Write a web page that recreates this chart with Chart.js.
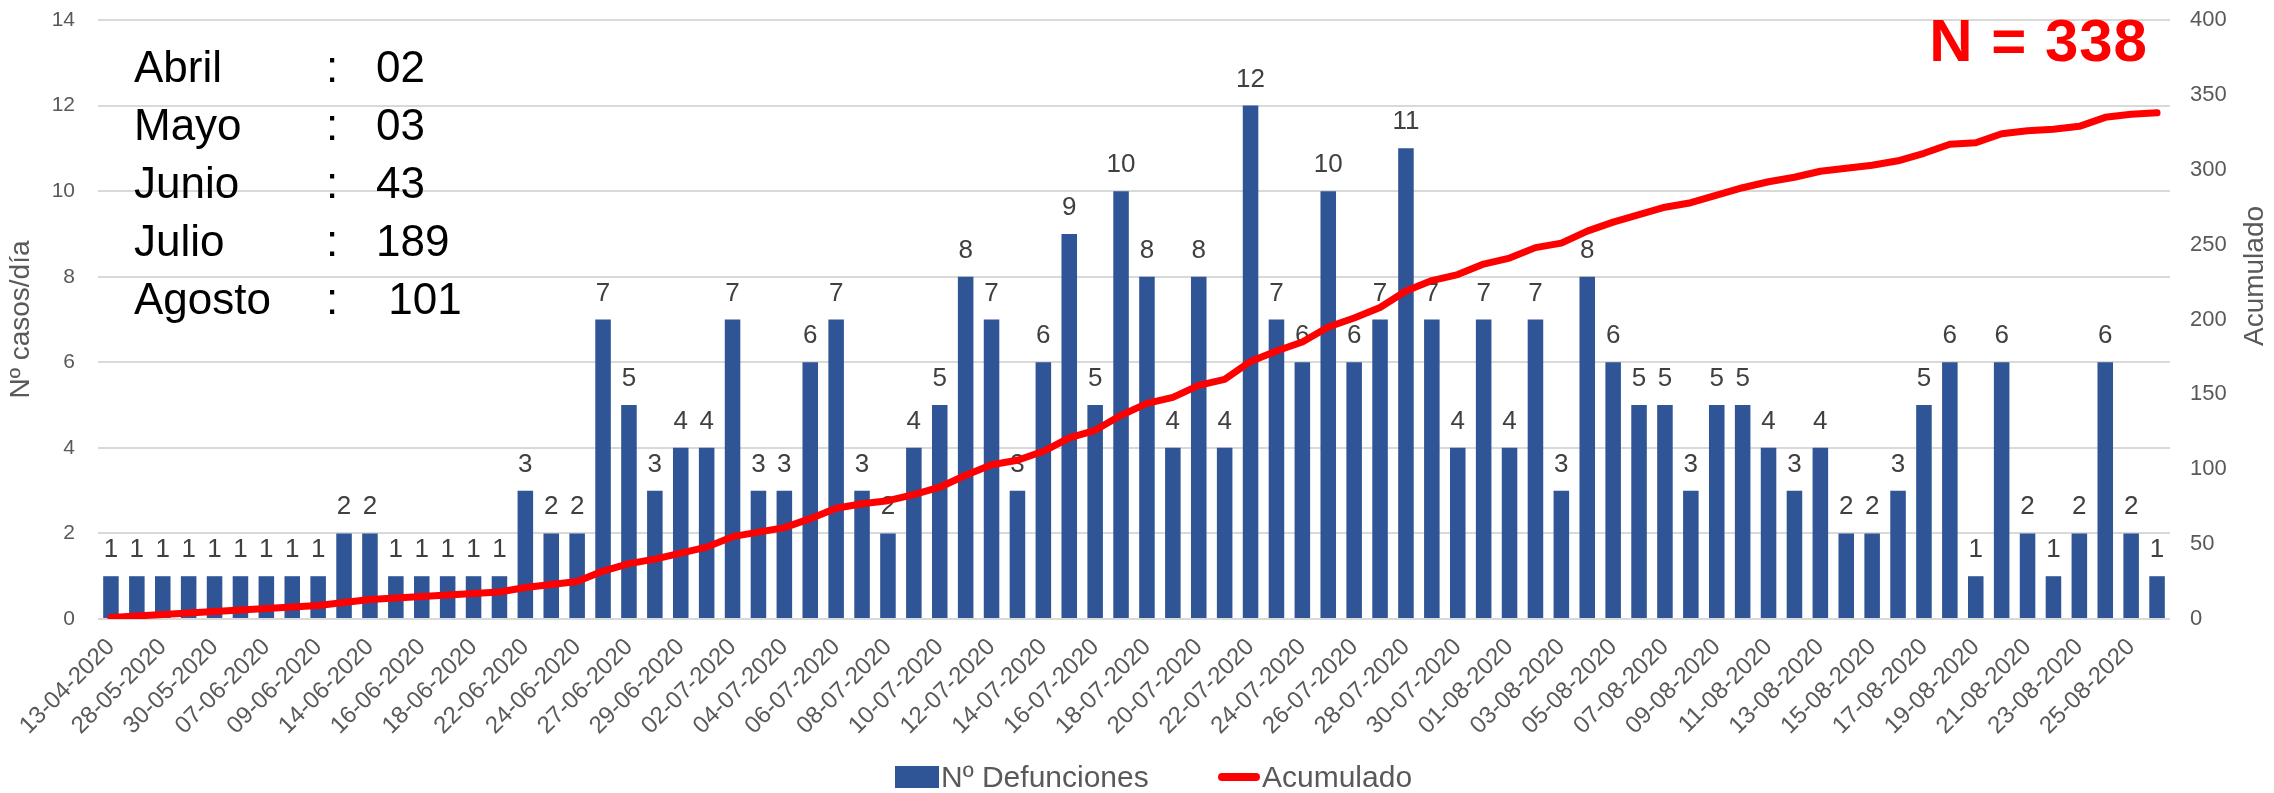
<!DOCTYPE html>
<html>
<head>
<meta charset="utf-8">
<script src="https://cdn.jsdelivr.net/npm/chart.js@4.4.1/dist/chart.umd.min.js"></script>
<style>
  body { margin: 0; background: #fff; }
  #wrap { position: relative; width: 2274px; height: 793px; font-family: "Liberation Sans", Arial, sans-serif; }
  #notes { position: absolute; left: 134px; top: 38px; font-size: 44px; color: #000; }
  #notes div { height: 58px; line-height: 58px; white-space: pre; position: relative; }
  #notes .colon { position: absolute; left: 192px; }
  #notes .val { position: absolute; left: 242px; }
  #total { position: absolute; right: 126px; top: 11px; font-size: 60px; font-weight: bold; line-height: 1; letter-spacing: 1px; color: #FF0000; }
  #legend { position: absolute; left: 0; top: 760px; height: 34px; width: 100%; font-size: 30px; color: #595959; line-height: 34px; }
  #legend span { position: absolute; }
  #legend .box { width: 44px; height: 22px; top: 6px; }
  #legend .line { width: 42px; height: 8px; top: 13px; border-radius: 4px; }
</style>
</head>
<body>
<div id="wrap">
  <canvas id="chart"></canvas>
  <div id="notes"></div>
  <div id="total"></div>
  <div id="legend"></div>
</div>
<script>
// Data
const dates = [
  "13-04-2020", "25-04-2020", "28-05-2020", "29-05-2020", "30-05-2020", "05-06-2020",
  "07-06-2020", "08-06-2020", "09-06-2020", "12-06-2020", "14-06-2020", "15-06-2020",
  "16-06-2020", "17-06-2020", "18-06-2020", "20-06-2020", "22-06-2020", "23-06-2020",
  "24-06-2020", "26-06-2020", "27-06-2020", "28-06-2020", "29-06-2020", "30-06-2020",
  "02-07-2020", "03-07-2020", "04-07-2020", "05-07-2020", "06-07-2020", "07-07-2020",
  "08-07-2020", "09-07-2020", "10-07-2020", "11-07-2020", "12-07-2020", "13-07-2020",
  "14-07-2020", "15-07-2020", "16-07-2020", "17-07-2020", "18-07-2020", "19-07-2020",
  "20-07-2020", "21-07-2020", "22-07-2020", "23-07-2020", "24-07-2020", "25-07-2020",
  "26-07-2020", "27-07-2020", "28-07-2020", "29-07-2020", "30-07-2020", "31-07-2020",
  "01-08-2020", "02-08-2020", "03-08-2020", "04-08-2020", "05-08-2020", "06-08-2020",
  "07-08-2020", "08-08-2020", "09-08-2020", "10-08-2020", "11-08-2020", "12-08-2020",
  "13-08-2020", "14-08-2020", "15-08-2020", "16-08-2020", "17-08-2020", "18-08-2020",
  "19-08-2020", "20-08-2020", "21-08-2020", "22-08-2020", "23-08-2020", "24-08-2020",
  "25-08-2020", "26-08-2020"
];

const deaths = [
  1, 1, 1, 1, 1, 1, 1, 1, 1, 2, 2, 1, 1, 1, 1, 1, 3, 2, 2, 7,
  5, 3, 4, 4, 7, 3, 3, 6, 7, 3, 2, 4, 5, 8, 7, 3, 6, 9, 5, 10,
  8, 4, 8, 4, 12, 7, 6, 10, 6, 7, 11, 7, 4, 7, 4, 7, 3, 8, 6, 5,
  5, 3, 5, 5, 4, 3, 4, 2, 2, 3, 5, 6, 1, 6, 2, 1, 2, 6, 2, 1
];

const accumulated = [
  1, 2, 3, 4, 5, 6, 7, 8, 9, 11, 13, 14, 15, 16, 17, 18, 21, 23, 25, 32,
  37, 40, 44, 48, 55, 58, 61, 67, 74, 77, 79, 83, 88, 96, 103, 106, 112, 121, 126, 136,
  144, 148, 156, 160, 172, 179, 185, 195, 201, 208, 219, 226, 230, 237, 241, 248, 251, 259, 265, 270,
  275, 278, 283, 288, 292, 295, 299, 301, 303, 306, 311, 317, 318, 324, 326, 327, 329, 335, 337, 338
];

const months = ["Abril", "Mayo", "Junio", "Julio", "Agosto"];
const monthTotals = ["02", "03", "43", "189", " 101"];
const totalLabel = "N = 338";

const barColor = "#2F5597";
const lineColor = "#FF0000";

// Text blocks
const notes = document.getElementById("notes");
months.forEach((m, i) => {
  const row = document.createElement("div");
  row.innerHTML = `<span>${m}</span><span class="colon">:</span><span class="val">${monthTotals[i]}</span>`;
  notes.appendChild(row);
});
document.getElementById("total").textContent = totalLabel;

document.getElementById("legend").innerHTML = `
  <span class="box" style="left:895px;background:${barColor}"></span>
  <span style="left:941px">Nº Defunciones</span>
  <span class="line" style="left:1218px;background:${lineColor}"></span>
  <span style="left:1262px">Acumulado</span>`;

// Bar value labels
const barLabels = {
  id: "barLabels",
  afterDatasetDraw(chart, args) {
    if (args.index !== 0) return;
    const ctx = chart.ctx;
    ctx.save();
    ctx.font = "26px 'Liberation Sans', Arial, sans-serif";
    ctx.fillStyle = "#404040";
    ctx.textAlign = "center";
    ctx.textBaseline = "alphabetic";
    args.meta.data.forEach((bar, i) => {
      ctx.fillText(deaths[i], bar.x, bar.y - 19);
    });
    ctx.restore();
  }
};

// right axis title, reading bottom to top
const rightTitle = {
  id: "rightTitle",
  afterDraw(chart) {
    const ctx = chart.ctx;
    ctx.save();
    ctx.translate(chart.scales.y1.right - 19, 276);
    ctx.rotate(-Math.PI / 2);
    ctx.font = "28px 'Liberation Sans', Arial, sans-serif";
    ctx.fillStyle = "#595959";
    ctx.textAlign = "center";
    ctx.textBaseline = "middle";
    ctx.fillText("Acumulado", 0, 0);
    ctx.restore();
  }
};

Chart.defaults.font.family = "'Liberation Sans', Arial, sans-serif";
Chart.defaults.color = "#595959";

new Chart(document.getElementById("chart"), {
  type: "bar",
  data: {
    labels: dates,
    datasets: [
      {
        label: "Nº Defunciones",
        data: deaths,
        backgroundColor: barColor,
        categoryPercentage: 0.8,
        barPercentage: 0.75,
        yAxisID: "y",
        order: 1
      },
      {
        type: "line",
        label: "Acumulado",
        data: accumulated,
        borderColor: lineColor,
        backgroundColor: lineColor,
        borderWidth: 7,
        borderCapStyle: "round",
        borderJoinStyle: "round",
        pointRadius: 0,
        tension: 0,
        yAxisID: "y1",
        order: 0
      }
    ]
  },
  options: {
    responsive: true,
    maintainAspectRatio: false,
    animation: false,
    layout: { padding: { top: 20, left: 0, right: 0, bottom: 0 } },
    plugins: {
      tooltip: { enabled: false },
      legend: { display: false }
    },
    scales: {
      x: {
        grid: { display: false },
        border: { display: false },
        ticks: {
          autoSkip: false,
          maxRotation: 45,
          minRotation: 45,
          padding: 6,
          font: { size: 24 },
          callback: (v, i) => (i % 2 === 0 ? dates[i] : "")
        },
        afterFit: s => { s.height = 174; }
      },
      y: {
        position: "left",
        min: 0,
        max: 14,
        ticks: { stepSize: 2, padding: 0, font: { size: 21 } },
        grid: { color: "#D9D9D9", lineWidth: 2, drawTicks: true, tickLength: 23, tickColor: "rgba(0,0,0,0)" },
        border: { display: false },
        title: { display: true, text: "Nº casos/día", font: { size: 28 }, color: "#595959", padding: { top: 4 } },
        afterFit: s => { s.width = 98; }
      },
      y1: {
        position: "right",
        min: 0,
        max: 400,
        ticks: { stepSize: 50, padding: 0, font: { size: 22 } },
        grid: { display: false, drawTicks: true, tickLength: 20, tickColor: "rgba(0,0,0,0)" },
        border: { display: false },
        afterFit: s => { s.width = 104; }
      }
    }
  },
  plugins: [barLabels, rightTitle]
});
</script>
</body>
</html>
